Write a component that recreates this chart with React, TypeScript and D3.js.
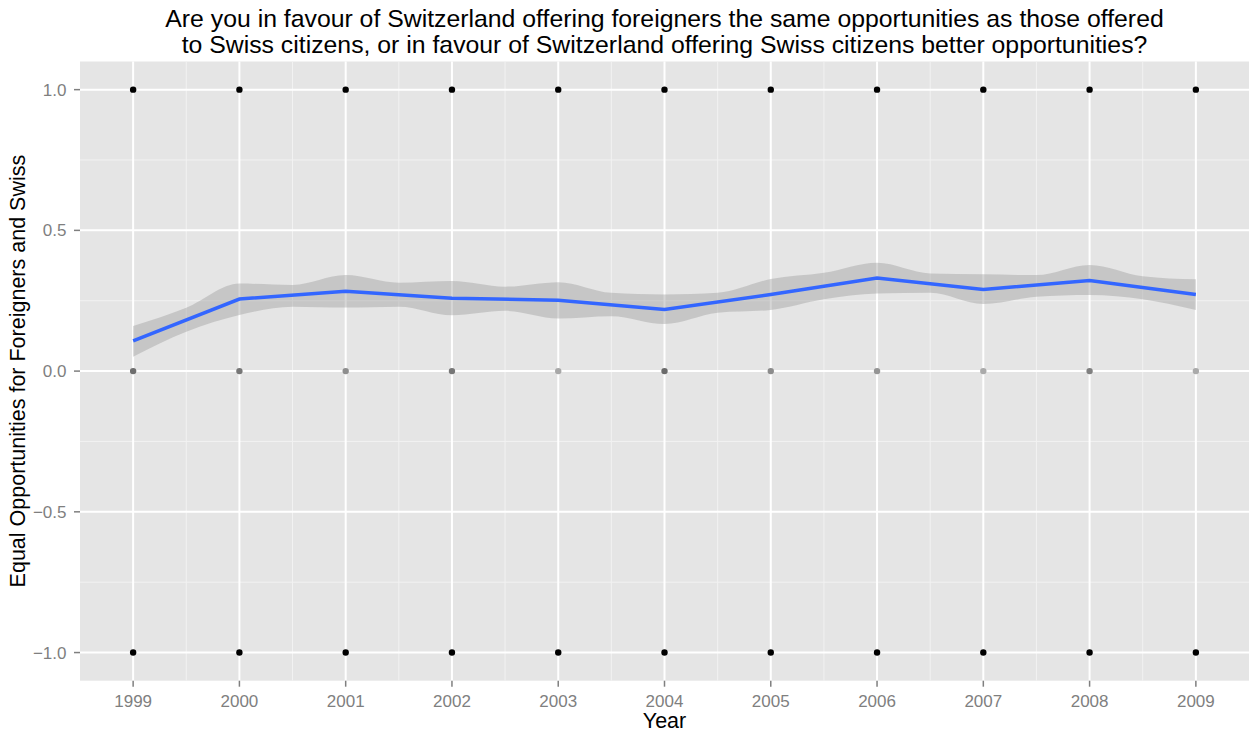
import React from "react";
import * as d3 from "d3";

// Survey years on the x axis
const years = [1999, 2000, 2001, 2002, 2003, 2004, 2005, 2006, 2007, 2008, 2009];

// Smoothed mean response per year
const smoothMean = [0.107, 0.256, 0.284, 0.259, 0.252, 0.219, 0.272, 0.331, 0.29, 0.322, 0.272];

// Confidence band sampled at years and half-years
const bandX = [
  1999, 1999.5, 2000, 2000.5, 2001, 2001.5, 2002, 2002.5, 2003, 2003.5, 2004,
  2004.5, 2005, 2005.5, 2006, 2006.5, 2007, 2007.5, 2008, 2008.5, 2009,
];
const bandUpper = [
  0.16, 0.225, 0.311, 0.306, 0.341, 0.314, 0.32, 0.3, 0.316, 0.278, 0.272,
  0.278, 0.327, 0.349, 0.385, 0.347, 0.344, 0.341, 0.377, 0.337, 0.326,
];
const bandLower = [
  0.051, 0.14, 0.199, 0.229, 0.226, 0.229, 0.198, 0.214, 0.187, 0.195, 0.167,
  0.207, 0.217, 0.255, 0.276, 0.278, 0.238, 0.264, 0.27, 0.255, 0.217,
];

// Answer levels plotted as translucent points
const answerLevels = [1, 0, -1];
// Grey shade of the overlapping "0" answers per year (fewer answers -> lighter)
const zeroShade = ["#6e6e6e", "#777777", "#8e8e8e", "#777777", "#a8a8a8", "#6a6a6a", "#8c8c8c", "#959595", "#aaaaaa", "#808080", "#aaaaaa"];

const yTicks = [-1.0, -0.5, 0.0, 0.5, 1.0];
const yMinor = [-0.75, -0.25, 0.25, 0.75];
const xMinor = [1999.5, 2000.5, 2001.5, 2002.5, 2003.5, 2004.5, 2005.5, 2006.5, 2007.5, 2008.5];

const titleLines = [
  "Are you in favour of Switzerland offering foreigners the same opportunities as those offered",
  "to Swiss citizens, or in favour of Switzerland offering Swiss citizens better opportunities?",
];

const W = 1249;
const H = 733;
const panel = { left: 80, right: 1249, top: 61.5, bottom: 680.7 };
const font = "'Liberation Sans', Arial, Helvetica, sans-serif";

export default function App() {
  const x = d3.scaleLinear().domain([1998.5, 2009.5]).range([panel.left, panel.right]);
  const y = d3.scaleLinear().domain([-1.1, 1.1]).range([panel.bottom, panel.top]);

  const area = d3
    .area<number>()
    .x((_, i) => x(bandX[i]))
    .y0((_, i) => y(bandLower[i]))
    .y1((_, i) => y(bandUpper[i]))
    .curve(d3.curveMonotoneX);

  const line = d3
    .line<number>()
    .x((_, i) => x(years[i]))
    .y((d) => y(d));

  const fmt = (v: number) => (v < 0 ? "\u2212" + Math.abs(v).toFixed(1) : v.toFixed(1));
  const cx = (panel.left + panel.right) / 2;

  return (
    <svg
      width={W}
      height={H}
      style={{ position: "absolute", left: 0, top: 0, background: "#ffffff" }}
      fontFamily={font}
    >
      <rect x={0} y={0} width={W} height={H} fill="#ffffff" />
      {/* Panel background */}
      <rect
        x={panel.left}
        y={panel.top}
        width={panel.right - panel.left}
        height={panel.bottom - panel.top}
        fill="#e5e5e5"
      />
      {/* Minor grid */}
      {yMinor.map((v) => (
        <line key={"ym" + v} x1={panel.left} x2={panel.right} y1={y(v)} y2={y(v)} stroke="#f2f2f2" strokeWidth={1} />
      ))}
      {xMinor.map((v) => (
        <line key={"xm" + v} x1={x(v)} x2={x(v)} y1={panel.top} y2={panel.bottom} stroke="#f2f2f2" strokeWidth={1} />
      ))}
      {/* Major grid */}
      {yTicks.map((v) => (
        <line key={"yM" + v} x1={panel.left} x2={panel.right} y1={y(v)} y2={y(v)} stroke="#ffffff" strokeWidth={2} />
      ))}
      {years.map((v) => (
        <line key={"xM" + v} x1={x(v)} x2={x(v)} y1={panel.top} y2={panel.bottom} stroke="#ffffff" strokeWidth={2} />
      ))}

      {/* Answer points */}
      {years.map((yr, i) =>
        answerLevels.map((lv) => (
          <circle
            key={yr + "_" + lv}
            cx={x(yr)}
            cy={y(lv)}
            r={3.2}
            fill={lv === 0 ? zeroShade[i] : "#000000"}
          />
        ))
      )}

      {/* Confidence band and smoothed line */}
      <path d={area(bandX) || ""} fill="#999999" fillOpacity={0.4} />
      <path d={line(smoothMean) || ""} fill="none" stroke="#3366ff" strokeWidth={3.5} />

      {/* Y axis ticks and labels */}
      {yTicks.map((v) => (
        <g key={"yt" + v}>
          <line x1={panel.left - 6} x2={panel.left} y1={y(v)} y2={y(v)} stroke="#7f7f7f" strokeWidth={1.5} />
          <text x={panel.left - 13.5} y={y(v)} dy="0.36em" textAnchor="end" fontSize={17} fill="#7f7f7f">
            {fmt(v)}
          </text>
        </g>
      ))}
      {/* X axis ticks and labels */}
      {years.map((v) => (
        <g key={"xt" + v}>
          <line x1={x(v)} x2={x(v)} y1={panel.bottom} y2={panel.bottom + 6} stroke="#7f7f7f" strokeWidth={1.5} />
          <text x={x(v)} y={707} textAnchor="middle" fontSize={17} fill="#7f7f7f">
            {v}
          </text>
        </g>
      ))}

      {/* Axis titles */}
      <text x={cx} y={728} textAnchor="middle" fontSize={21.5} fill="#000000">
        Year
      </text>
      <text
        transform={`translate(25, ${(panel.top + panel.bottom) / 2}) rotate(-90)`}
        textAnchor="middle"
        fontSize={21.5}
        fill="#000000"
      >
        Equal Opportunities for Foreigners and Swiss
      </text>

      {/* Title */}
      {titleLines.map((t, i) => (
        <text key={i} x={cx} y={27 + i * 26} textAnchor="middle" fontSize={24.8} fill="#000000">
          {t}
        </text>
      ))}
    </svg>
  );
}
